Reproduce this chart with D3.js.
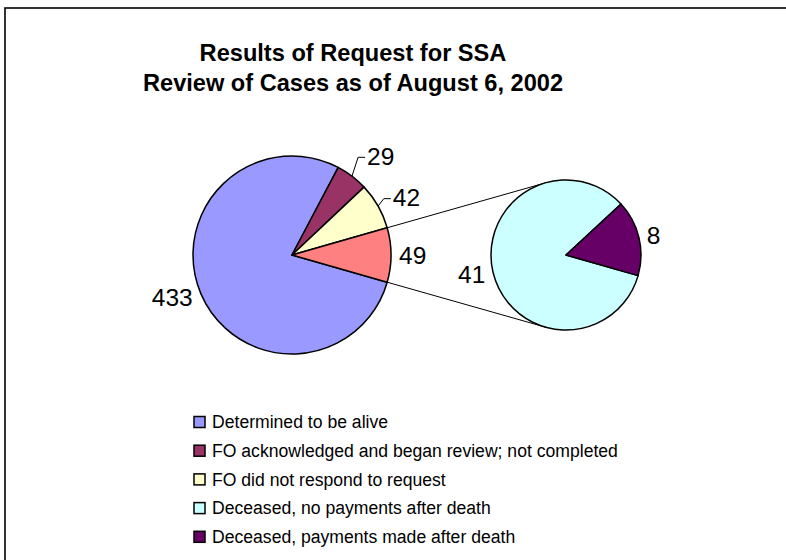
<!DOCTYPE html>
<html>
<head>
<meta charset="utf-8">
<script src="https://cdn.jsdelivr.net/npm/d3@7"></script>
<style>
  html, body { margin: 0; padding: 0; background: #fff; }
  svg { display: block; font-family: "Liberation Sans", Arial, sans-serif; }
</style>
</head>
<body>
<svg id="chart" width="786" height="560"></svg>
<script>
// ---- data ----
const titleLines = ["Results of Request for SSA", "Review of Cases as of August 6, 2002"];
const mainCategories = ["Determined to be alive", "FO acknowledged and began review; not completed", "FO did not respond to request"];
const mainValues = [433, 29, 42];
const mainColors = ["#9999FF", "#993366", "#FFFFCC"];
const subCategories = ["Deceased, no payments after death", "Deceased, payments made after death"];
const subValues = [41, 8];
const subColors = ["#CCFFFF", "#660066"];
const otherColor = "#FF8080";

// ---- layout ----
const svg = d3.select("#chart");
const W = 786, H = 560;

// frame
svg.append("rect").attr("x", 5).attr("y", 8).attr("width", W + 20).attr("height", H + 20)
  .attr("fill", "#fff").attr("stroke", "#000").attr("stroke-width", 1.6);

// title
const title = svg.append("text").attr("text-anchor", "middle")
  .attr("font-size", 23.6).attr("font-weight", "bold").attr("fill", "#000");
titleLines.forEach((t, i) => {
  title.append("tspan").attr("x", 353).attr("y", 61 + i * 30).text(t);
});

const otherValue = d3.sum(subValues);
const mainData = mainValues.map((v, i) => ({ label: v, value: v, color: mainColors[i] }))
  .concat([{ label: otherValue, value: otherValue, color: otherColor }]);
const total = d3.sum(mainData, d => d.value);

const cx1 = 292, cy1 = 255, r1 = 99;
const cx2 = 566, cy2 = 255, r2 = 75;

const start = Math.PI / 2 + Math.PI * otherValue / total;
const pie1 = d3.pie().sort(null).value(d => d.value).startAngle(start).endAngle(start + 2 * Math.PI);
const arcs1 = pie1(mainData);
const arc1 = d3.arc().innerRadius(0).outerRadius(r1);

const g1 = svg.append("g").attr("transform", `translate(${cx1},${cy1})`);
g1.selectAll("path").data(arcs1).join("path")
  .attr("d", arc1).attr("fill", d => d.data.color)
  .attr("stroke", "#000").attr("stroke-width", 1.5).attr("stroke-linejoin", "round");

// second pie
const subData = subValues.map((v, i) => ({ label: v, value: v, color: subColors[i] }));
const pie2 = d3.pie().sort(null).value(d => d.value).startAngle(start).endAngle(start + 2 * Math.PI);
const arcs2 = pie2(subData);
const arc2 = d3.arc().innerRadius(0).outerRadius(r2);

// connector lines (tangents from the "other" slice edge points to the second pie)
const otherArc = arcs1[arcs1.length - 1];
function pt(cx, cy, r, a) { return [cx + r * Math.sin(a), cy - r * Math.cos(a)]; }
const edgePts = [pt(cx1, cy1, r1, otherArc.startAngle), pt(cx1, cy1, r1, otherArc.endAngle)];
edgePts.forEach((p, k) => {
  const dx = p[0] - cx2, dy = p[1] - cy2;
  const d = Math.hypot(dx, dy);
  const phi = Math.atan2(dy, dx);
  const off = Math.acos(r2 / d);
  const ang = k === 0 ? phi + off : phi - off;
  const tp = [cx2 + r2 * Math.cos(ang), cy2 + r2 * Math.sin(ang)];
  svg.append("line").attr("x1", p[0]).attr("y1", p[1]).attr("x2", tp[0]).attr("y2", tp[1])
    .attr("stroke", "#000").attr("stroke-width", 1);
});

const g2 = svg.append("g").attr("transform", `translate(${cx2},${cy2})`);
g2.selectAll("path").data(arcs2).join("path")
  .attr("d", arc2).attr("fill", d => d.data.color)
  .attr("stroke", "#000").attr("stroke-width", 1.5).attr("stroke-linejoin", "round");

// labels
const labelFont = 24.5;
const labelRadii1 = [108, 124, 116, 107];
const leader1 = [false, true, true, false];
arcs1.forEach((d, i) => {
  const mid = (d.startAngle + d.endAngle) / 2;
  const [lx, ly] = pt(cx1, cy1, labelRadii1[i], mid);
  const anchor = Math.sin(mid) >= 0 ? "start" : "end";
  svg.append("text").attr("x", lx).attr("y", ly).attr("dy", "0.35em")
    .attr("text-anchor", anchor).attr("font-size", labelFont).attr("fill", "#000")
    .text(d.data.label);
  if (leader1[i]) {
    const e = pt(cx1, cy1, r1, mid);
    svg.append("polyline")
      .attr("points", [[e[0], e[1]], [lx - 9, ly + 1], [lx - 2, ly + 1]].map(p => p.join(",")).join(" "))
      .attr("fill", "none").attr("stroke", "#000").attr("stroke-width", 1);
  }
});
arcs2.forEach((d, i) => {
  const mid = (d.startAngle + d.endAngle) / 2;
  const [lx, ly] = pt(cx2, cy2, r2 + 8, mid);
  const anchor = Math.sin(mid) >= 0 ? "start" : "end";
  svg.append("text").attr("x", lx).attr("y", ly).attr("dy", "0.35em")
    .attr("text-anchor", anchor).attr("font-size", labelFont).attr("fill", "#000")
    .text(d.data.label);
});

// legend
const legendItems = mainCategories.map((c, i) => ({ name: c, color: mainColors[i] }))
  .concat(subCategories.map((c, i) => ({ name: c, color: subColors[i] })));
const lg = svg.append("g");
legendItems.forEach((it, i) => {
  const y = 422 + i * 28.7;
  lg.append("rect").attr("x", 194).attr("y", y - 5.5).attr("width", 11).attr("height", 11)
    .attr("fill", it.color).attr("stroke", "#000").attr("stroke-width", 1.5);
  lg.append("text").attr("x", 212).attr("y", y).attr("dy", "0.35em")
    .attr("font-size", 17.6).attr("fill", "#000").text(it.name);
});
</script>
</body>
</html>
